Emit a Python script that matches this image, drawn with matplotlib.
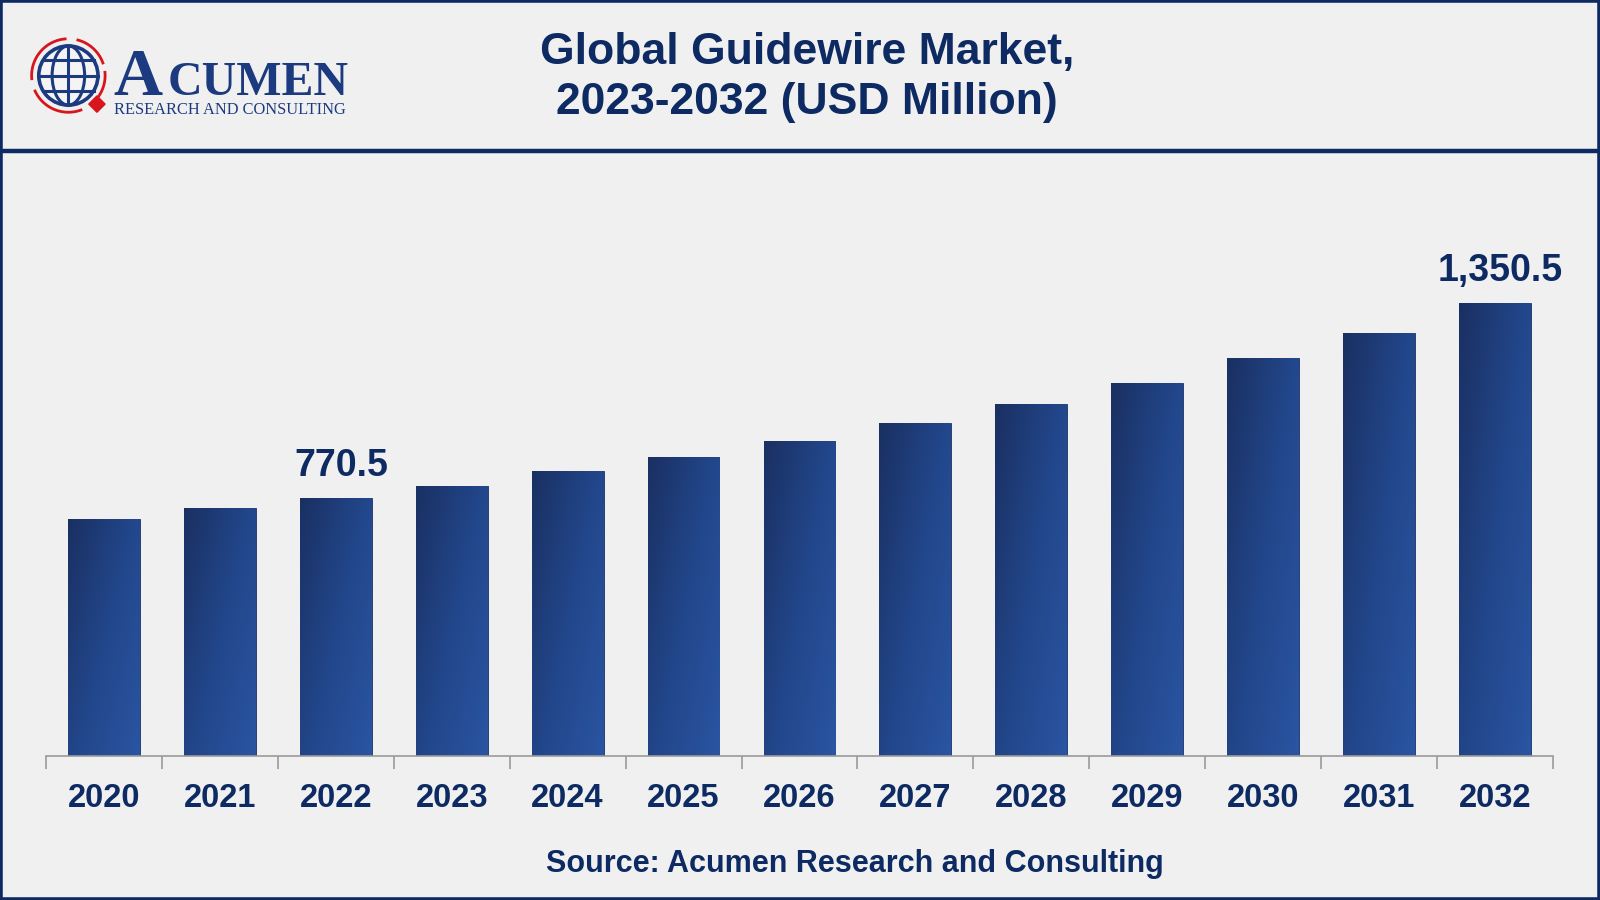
import matplotlib
matplotlib.use('Agg')
import matplotlib.pyplot as plt
import numpy as np
from matplotlib.patches import Rectangle, Circle, Ellipse, Polygon
from matplotlib.lines import Line2D
from matplotlib.colors import LinearSegmentedColormap

# ---- data ----
years = ['2020', '2021', '2022', '2023', '2024', '2025', '2026',
         '2027', '2028', '2029', '2030', '2031', '2032']
values = [705.7, 739.0, 770.5, 806.0, 848.6, 891.0, 940.0,
          991.6, 1049.0, 1113.0, 1186.0, 1262.0, 1350.5]
value_labels = {'2022': '770.5', '2032': '1,350.5'}
title = "Global Guidewire Market,\n2023-2032 (USD Million)"
source = "Source: Acumen Research and Consulting"

NAVY = '#0d2a62'
BG = '#f0f0f0'
FONT = 'Liberation Sans'

W, H = 1568.0, 882.0
def fx(x): return x / W
def fy(y): return 1 - y / H

fig = plt.figure(figsize=(16, 9), dpi=100, facecolor=BG)

# ---- main axes ----
ax = fig.add_axes([fx(45), fy(741), fx(1522) - fx(45), fy(160) - fy(741)])
ax.set_facecolor('none')
x = np.arange(len(years))
bars = ax.bar(x, values, width=0.62, color='#23478c', zorder=2,
              edgecolor='#1a3468', linewidth=0.6)

cmap = LinearSegmentedColormap.from_list('g', ['#1a3062', '#22468a', '#2a55a2'])
gx = np.linspace(0, 1, 60)
gy = np.linspace(0, 1, 200)
GX, GY = np.meshgrid(gx, gy)
grad = 0.55 * GX + 0.45 * GY  # row 0 = top
for b in bars:
    x0, w, h = b.get_x(), b.get_width(), b.get_height()
    im = ax.imshow(grad, cmap=cmap, extent=(x0, x0 + w, 0, h), origin='upper',
                   aspect='auto', zorder=2.5, interpolation='bilinear')
    im.set_clip_path(b)

ax.set_xlim(-0.5, len(years) - 0.5)
ax.set_ylim(0, 1767)
ax.set_xticks(x)
ax.set_xticklabels(years, fontsize=23.5, fontweight='bold', color=NAVY, family=FONT)
ax.set_xticks(np.arange(-0.5, len(years), 1.0), minor=True)
ax.tick_params(axis='x', which='major', length=0, pad=19)
ax.tick_params(axis='x', which='minor', length=9, color='#9a9a9a', width=1.2)
ax.set_yticks([])
for s in ['top', 'right', 'left']:
    ax.spines[s].set_visible(False)
ax.spines['bottom'].set_color('#9a9a9a')
ax.spines['bottom'].set_linewidth(1.2)
ax.spines['bottom'].set_zorder(3)

for i, (yr, v) in enumerate(zip(years, values)):
    if yr in value_labels:
        ax.annotate(value_labels[yr], (i, v), xytext=(4, 10),
                    textcoords='offset points', ha='center', va='bottom',
                    fontsize=27, fontweight='bold', color=NAVY, family=FONT)

# ---- header / title / source ----
fig.text(fx(791), fy(76), title, ha='center', va='center', fontsize=32,
         fontweight='bold', color=NAVY, family=FONT, linespacing=1.3)
fig.text(fx(838), fy(847), source, ha='center', va='center', fontsize=22,
         fontweight='bold', color=NAVY, family=FONT)

fig.add_artist(Line2D([0, 1], [fy(148), fy(148)], color=NAVY, lw=3.2,
                      transform=fig.transFigure))
fig.add_artist(Rectangle((0, 0), 1, 1, transform=fig.transFigure, fill=False,
                         edgecolor=NAVY, linewidth=4))

# ---- logo ----
lax = fig.add_axes([0, fy(140), fx(360), fy(0) - fy(140)], zorder=5)
lax.set_xlim(0, 360)
lax.set_ylim(140, 0)
lax.axis('off')
lax.patch.set_alpha(0)
LOGO = '#1c3a80'
RED = '#d8141c'
cx, cy, r = 67, 74, 29
lax.add_patch(Circle((cx, cy), r, facecolor='#f4f4f4', edgecolor=LOGO, lw=2.6))
lax.add_patch(Ellipse((cx, cy), 2 * r * 0.55, 2 * r, fill=False, edgecolor=LOGO, lw=2.2))
lax.plot([cx, cx], [cy - r, cy + r], color=LOGO, lw=2.2)
for dy in [-15, 0, 15]:
    hw = np.sqrt(r ** 2 - dy ** 2)
    lax.plot([cx - hw, cx + hw], [cy + dy, cy + dy], color=LOGO, lw=2.2)
R = 36
for t0, t1 in [(95, 185), (20, 75), (205, 290), (-40, 5)]:
    t = np.radians(np.linspace(t0, t1, 40))
    lax.plot(cx + R * np.cos(t), cy - R * np.sin(t), color=RED, lw=2.0)
dx, dyy, s = 95, 102, 8
lax.add_patch(Polygon([(dx, dyy - s), (dx + s, dyy), (dx, dyy + s), (dx - s, dyy)],
                      color=RED))
fig.text(fx(111), fy(93), 'A', ha='left', va='baseline', fontsize=49,
         family='Liberation Serif', fontweight='bold', color=LOGO)
fig.text(fx(164), fy(93), 'CUMEN', ha='left', va='baseline', fontsize=34.5,
         family='Liberation Serif', fontweight='bold', color=LOGO)
fig.text(fx(112), fy(112), 'RESEARCH AND CONSULTING', ha='left', va='baseline',
         fontsize=11.8, family='Liberation Serif', color=LOGO)

fig.savefig('out.png', dpi=100, facecolor=BG)
